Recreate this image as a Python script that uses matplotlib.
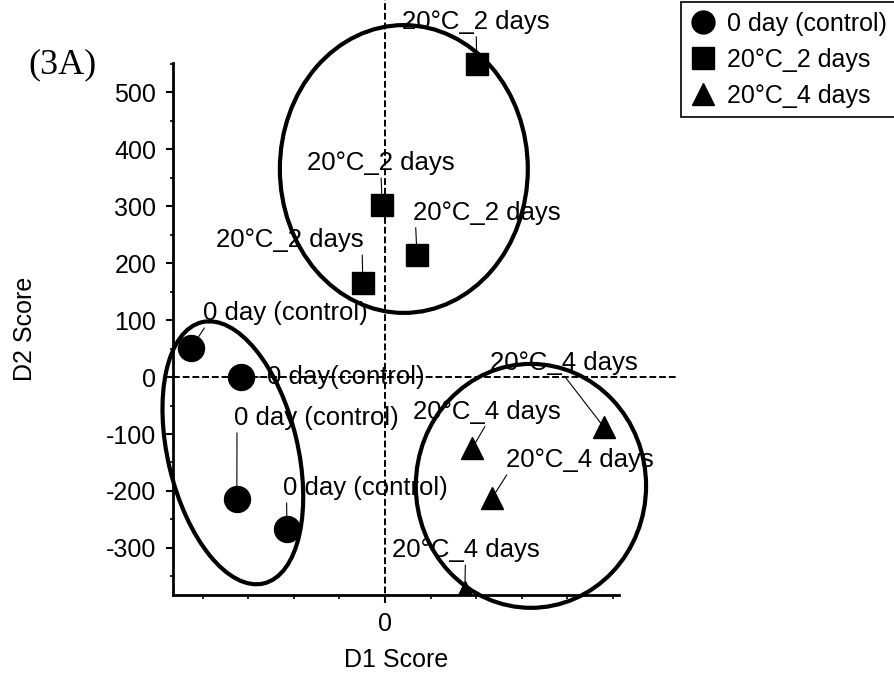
import matplotlib
matplotlib.use('Agg')
import matplotlib.pyplot as plt
from matplotlib.patches import Ellipse
from matplotlib.lines import Line2D
from matplotlib.ticker import MultipleLocator

plt.rcParams['font.family'] = ['Liberation Sans', 'DejaVu Sans']
plt.rcParams['axes.unicode_minus'] = False

# group names
groups = ['0 day (control)', '20°C_2 days', '20°C_4 days']

# discriminant scores
ctrl_d1 = [-340, -253, -260, -172]
ctrl_d2 = [51, 0, -214, -267]
d2days_d1 = [161, -5, 56, -39]
d2days_d2 = [549, 302, 214, 165]
d4days_d1 = [384, 153, 188, 140]
d4days_d2 = [-88, -125, -212, -377]

# point labels as printed in the figure
ctrl_names = ['0 day (control)', '0 day(control)', '0 day (control)', '0 day (control)']
d2days_names = ['20°C_2 days'] * 4
d4days_names = ['20°C_4 days'] * 4

# label placement (text centre, data units) and where the leader line leaves the text
ctrl_text = [(-175, 112), (-69, 0), (-121, -72), (-34, -195)]
ctrl_rel = [(0.02, 0), (0, 0.5), (0.02, 0), (0.02, 0)]
d2days_text = [(160, 623), (-7, 375), (178, 288), (-167, 240)]
d2days_rel = [(0.5, 0), (0.5, 0), (0.02, 0), (0.99, 0)]
d4days_text = [(313, 25), (178, -61), (341, -146), (141, -304)]
d4days_rel = [(0.5, 0), (0.5, 0), (0.02, 0), (0.5, 0)]

# grouping ellipses
ell_xy = [(-267, -133), (33, 365), (256, -191)]
ell_w = [228, 435, 404]
ell_h = [471, 505, 428]
ell_angle = [13.3, 0, 0]

fig = plt.figure(figsize=(8.94, 6.8), dpi=100)
ax = fig.add_axes([173/894, 1-595/680, 446/894, 532/680])
ax.set_xlim(-372, 410.5)
ax.set_ylim(-382.5, 551)

ax.spines['top'].set_visible(False)
ax.spines['right'].set_visible(False)
ax.spines['left'].set_linewidth(2)
ax.spines['bottom'].set_linewidth(2)

# dashed zero lines running past the axes
ax.axhline(0, xmin=0, xmax=1.132, color='k', lw=1.4, ls=(0, (3.5, 1.5)), clip_on=False, zorder=2)
ax.axvline(0, ymin=-0.015, ymax=1.12, color='k', lw=1.4, ls=(0, (3.5, 1.5)), clip_on=False, zorder=2)

for xy, w, h, a in zip(ell_xy, ell_w, ell_h, ell_angle):
    ax.add_patch(Ellipse(xy, w, h, angle=a, fill=False, lw=3, ec='k', clip_on=False, zorder=3))

ax.plot(ctrl_d1, ctrl_d2, 'o', ms=18.7, color='k', clip_on=False, zorder=5)
ax.plot(d2days_d1, d2days_d2, 's', ms=16.5, color='k', clip_on=False, zorder=5)
ax.plot(d4days_d1, d4days_d2, '^', ms=16, color='k', zorder=5)

def label_points(xs, ys, names, texts, rels):
    for x, y, n, t, r in zip(xs, ys, names, texts, rels):
        ax.annotate(n, xy=(x, y), xytext=t, ha='center', va='center', fontsize=18.5,
                    annotation_clip=False, zorder=4,
                    arrowprops=dict(arrowstyle='-', lw=0.8, color='k', relpos=r,
                                    shrinkA=0, shrinkB=0))

label_points(ctrl_d1, ctrl_d2, ctrl_names, ctrl_text, ctrl_rel)
label_points(d2days_d1, d2days_d2, d2days_names, d2days_text, d2days_rel)
label_points(d4days_d1, d4days_d2, d4days_names, d4days_text, d4days_rel)

ax.set_yticks([-300, -200, -100, 0, 100, 200, 300, 400, 500])
ax.yaxis.set_minor_locator(MultipleLocator(50))
ax.set_xticks([0])
ax.set_xticklabels(['0'])
ax.xaxis.set_minor_locator(MultipleLocator(80))
ax.tick_params(axis='y', which='major', length=5, width=1.5, labelsize=18, pad=7)
ax.tick_params(axis='y', which='minor', length=2.5, width=1.2)
ax.tick_params(axis='x', which='major', length=6, width=1.5, labelsize=18, pad=6)
ax.tick_params(axis='x', which='minor', length=3, width=1.2)

ax.set_ylabel('D2 Score', fontsize=18)
ax.yaxis.set_label_coords(-0.305, 0.5)
ax.set_xlabel('D1 Score', fontsize=18)
ax.xaxis.set_label_coords(0.5, -0.10)

fig.text(62/894, 1-65/680, '(3A)', fontsize=26, family=['Liberation Serif', 'DejaVu Serif'],
         ha='center', va='center')

handles = [Line2D([], [], ls='none', marker=m, ms=s, color='k')
           for m, s in zip(['o', 's', '^'], [16.5, 15.5, 16])]
leg = fig.legend(handles, groups, loc='upper left', bbox_to_anchor=(681/894, 1-2/680),
                 borderaxespad=0, fontsize=18, frameon=True, fancybox=False, edgecolor='k',
                 framealpha=1, handlelength=1.0, handletextpad=0.45, labelspacing=0.48,
                 borderpad=0.38)
leg.get_frame().set_linewidth(1.2)

fig.savefig('out.png', dpi=100)
